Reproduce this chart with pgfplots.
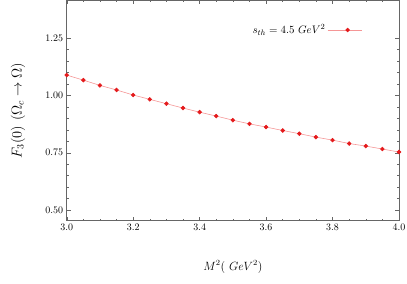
\documentclass[border=0pt]{standalone}
\usepackage{pgfplots}
\pgfplotsset{compat=1.18}
\definecolor{ptred}{RGB}{228,26,28}
\definecolor{lnred}{RGB}{245,150,150}
\begin{document}
\begin{tikzpicture}
\begin{axis}[
  scale only axis, width=332.3bp, height=220.7bp,
  at={(0,0)}, anchor=south west,
  xmin=3.0, xmax=4.0, ymin=0.453, ymax=1.417,
  xtick={3.0,3.2,3.4,3.6,3.8,4.0},
  ytick={0.50,0.75,1.00,1.25},
  minor x tick num=3, minor y tick num=4,
  xticklabel style={/pgf/number format/.cd,fixed,fixed zerofill,precision=1},
  yticklabel style={/pgf/number format/.cd,fixed,fixed zerofill,precision=2},
  tick align=inside,
  axis line style={black!60, line width=0.8pt},
  every tick/.style={black!60},
  major tick length=4pt, minor tick length=2pt,
  xlabel={\large $M^2(\ GeV^2)$},
  ylabel={\Large $F_3(0)\ (\Omega_c\to\Omega)$},
  xlabel style={at={(rel axis cs:0.5,0)}, anchor=center, yshift=-46.3bp},
  ylabel style={at={(rel axis cs:0,0.5)}, anchor=center, yshift=48.7bp},
  legend style={draw=none, fill=none, inner sep=0pt, at={(axis description cs:0.889,0.864)}, anchor=east, font=\fontsize{11}{13}\selectfont},
  legend plot pos=right,
  legend cell align=right,
]
\addplot[color=lnred, line width=0.6pt, mark=*, mark size=1.9pt, mark options={fill=ptred, draw=ptred},
  legend image code/.code={\path (0bp,0bp) -- (6bp,0bp);
    \draw[lnred, line width=0.6pt] (6bp,0bp) -- (34bp,0bp);
    \fill[ptred] (20bp,0bp) circle (1.9pt);}]
coordinates {
(3.00,1.089)(3.05,1.067)(3.10,1.044)(3.15,1.024)(3.20,1.002)
(3.25,0.983)(3.30,0.964)(3.35,0.945)(3.40,0.927)(3.45,0.910)
(3.50,0.892)(3.55,0.876)(3.60,0.862)(3.65,0.847)(3.70,0.833)
(3.75,0.818)(3.80,0.805)(3.85,0.790)(3.90,0.779)(3.95,0.766)
(4.00,0.753)};
\addlegendentry{$s_{th}=4.5\ GeV^2$}
\end{axis}
\pgfresetboundingbox
\path[use as bounding box] (-66.7bp,-63.3bp) rectangle (340.3bp,220.7bp);
\end{tikzpicture}
\end{document}
